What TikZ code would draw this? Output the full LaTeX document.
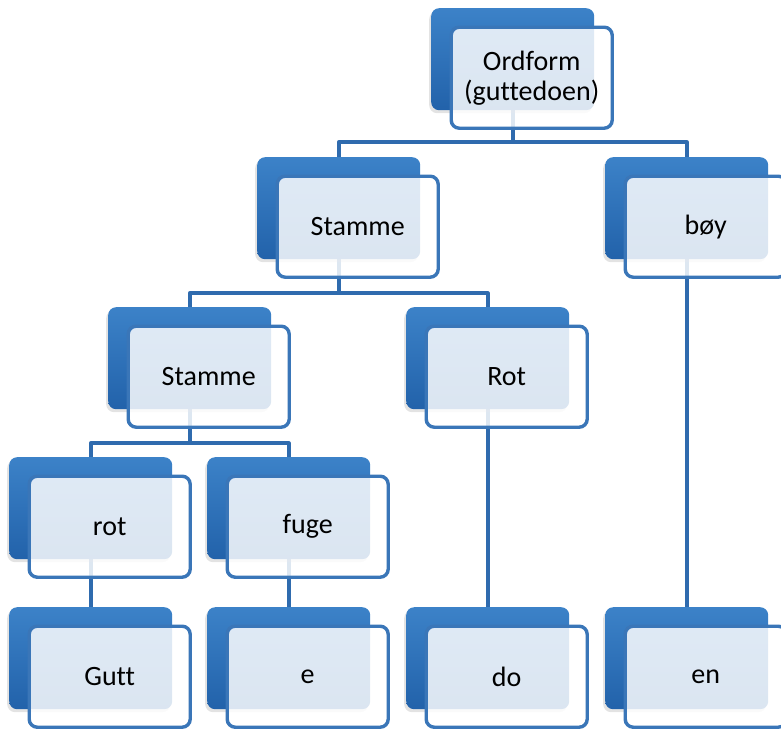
\documentclass[tikz,border=0pt]{standalone}
\usepackage{fontspec}
\setmainfont[Ligatures=NoCommon]{Carlito}
\usetikzlibrary{shadows}
\definecolor{backT}{HTML}{3C82C8}
\definecolor{backD}{HTML}{2262AA}
\definecolor{edgec}{HTML}{3A76B8}
\definecolor{linkc}{HTML}{2F6BAE}
\pgfdeclarelayer{bg}
\pgfsetlayers{bg,main}
\tikzset{
  backbox/.style={rectangle, rounded corners=8pt, minimum width=163pt, minimum height=102pt,
    anchor=north west, top color=backT, bottom color=backD, draw=none, inner sep=0pt,
    drop shadow={shadow xshift=-2pt, shadow yshift=-3pt, opacity=0.22}},
  frontbox/.style={rectangle, rounded corners=8pt, minimum width=161pt, minimum height=101pt,
    anchor=north west, draw=edgec, line width=3.4pt, fill=white, fill opacity=0.84,
    draw opacity=1, text opacity=1, text=black, font=\fontsize{28}{30}\selectfont,
    align=center, inner sep=0pt},
  conn/.style={draw=linkc, line width=3.6pt, line join=round}
}
\newcommand\twobox[4]{%
  \node[backbox] (#1B) at (#2,#3) {};
  \node[frontbox] (#1) at (#2+18.5,#3+17.5) {#4};
}
\begin{document}
\begin{tikzpicture}[x=1pt,y=-1pt]
\useasboundingbox (0,0) rectangle (781,728);
\twobox{ord}{431}{8}{Ordform\\(guttedoen)}
\twobox{stA}{257}{157}{Stamme}
\twobox{boy}{605}{157}{bøy}
\twobox{stB}{108}{307}{Stamme}
\twobox{rotU}{406}{307}{Rot}
\twobox{rotl}{9}{457}{rot}
\twobox{fuge}{207}{457}{fuge}
\twobox{gutt}{9}{607}{Gutt}
\twobox{e}{207}{607}{e}
\twobox{do}{406}{607}{do}
\twobox{en}{605}{607}{en}
\coordinate (bar1) at (0,142);
\coordinate (bar2) at (0,293);
\coordinate (bar3) at (0,443);
\begin{pgfonlayer}{bg}
  \draw[conn] (ordB.south) -- (ordB.south |- bar1);
  \draw[conn] (stAB.north) -- (stAB.north |- bar1) -- (boyB.north |- bar1) -- (boyB.north);
  \draw[conn] (stAB.south) -- (stAB.south |- bar2);
  \draw[conn] (stBB.north) -- (stBB.north |- bar2) -- (rotUB.north |- bar2) -- (rotUB.north);
  \draw[conn] (stBB.south) -- (stBB.south |- bar3);
  \draw[conn] (rotlB.north) -- (rotlB.north |- bar3) -- (fugeB.north |- bar3) -- (fugeB.north);
  \draw[conn] (rotlB.south) -- (guttB.north);
  \draw[conn] (fugeB.south) -- (eB.north);
  \draw[conn] (rotUB.south) -- (doB.north);
  \draw[conn] (boyB.south) -- (enB.north);
\end{pgfonlayer}
\end{tikzpicture}
\end{document}
